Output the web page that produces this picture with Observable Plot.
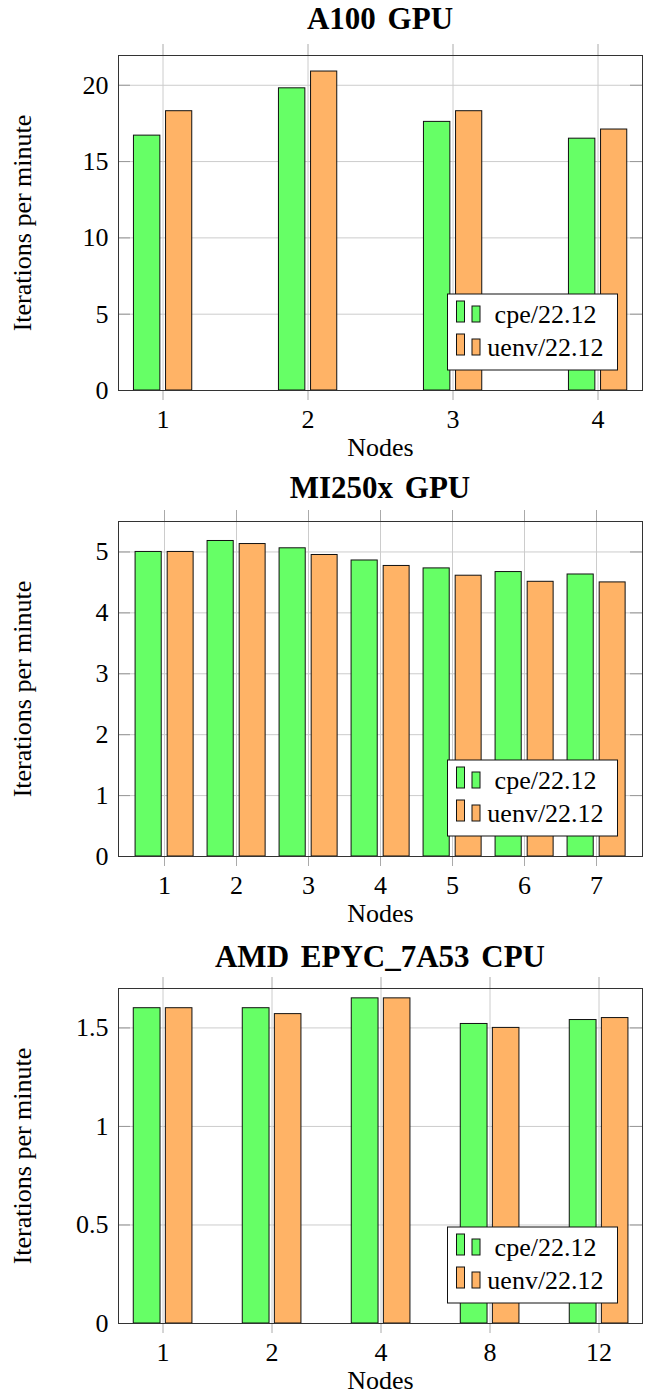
<!DOCTYPE html>
<html><head><meta charset="utf-8">
<script src="https://cdn.jsdelivr.net/npm/d3@7"></script>
<script src="https://cdn.jsdelivr.net/npm/@observablehq/plot@0.6"></script>
<style>
body{margin:0;background:#fff;font-family:"Liberation Serif","Times New Roman",serif;}
#root{position:relative;width:646px;height:1395px;overflow:hidden;}
.title{position:absolute;left:118px;width:524px;text-align:center;font-weight:bold;font-size:31px;line-height:1;color:#000;word-spacing:4px;}
.panel{position:absolute;left:0;}
</style></head><body><div id="root"></div>
<script>
const seriesNames = ["cpe/22.12", "uenv/22.12"];
const seriesColors = ["#66ff66", "#ffb366"];

const a100Nodes = ["1", "2", "3", "4"];
const a100Cpe = [16.7, 19.8, 17.6, 16.5];
const a100Uenv = [18.3, 20.9, 18.3, 17.1];
const a100YTicks = [0, 5, 10, 15, 20];

const mi250Nodes = ["1", "2", "3", "4", "5", "6", "7"];
const mi250Cpe = [5.00, 5.18, 5.06, 4.86, 4.73, 4.67, 4.63];
const mi250Uenv = [5.00, 5.13, 4.95, 4.77, 4.61, 4.51, 4.50];
const mi250YTicks = [0, 1, 2, 3, 4, 5];

const epycNodes = ["1", "2", "4", "8", "12"];
const epycCpe = [1.60, 1.60, 1.65, 1.52, 1.54];
const epycUenv = [1.60, 1.57, 1.65, 1.50, 1.55];
const epycYTicks = [0, 0.5, 1, 1.5];

const panels = [
  {title: "A100 GPU", nodes: a100Nodes, cpe: a100Cpe, uenv: a100Uenv, yTicks: a100YTicks, yMax: 21.95, frameTop: 55, titleTop: 3},
  {title: "MI250x GPU", nodes: mi250Nodes, cpe: mi250Cpe, uenv: mi250Uenv, yTicks: mi250YTicks, yMax: 5.5, frameTop: 521, titleTop: 472},
  {title: "AMD EPYC_7A53 CPU", nodes: epycNodes, cpe: epycCpe, uenv: epycUenv, yTicks: epycYTicks, yMax: 1.7, frameTop: 988, titleTop: 941}
];

const root = document.getElementById("root");
const FONT = "'Liberation Serif', 'Times New Roman', serif";
const FS = 26;

function makePanel(cfg) {
  const W = 646, mt = 20, ph = 335, mb = 70, ml = 118, mr = 4, H = mt + ph + mb;
  const fw = W - ml - mr;
  const first = ml + 44, last = W - mr - 43.5;
  const n = cfg.nodes.length;
  const step = (last - first) / (n - 1);
  const data = cfg.nodes.flatMap((node, i) => [
    {node, series: seriesNames[0], value: cfg.cpe[i]},
    {node, series: seriesNames[1], value: cfg.uenv[i]}
  ]);
  const plot = Plot.plot({
    width: W, height: H,
    marginTop: mt, marginBottom: mb, marginLeft: ml, marginRight: mr,
    style: {fontFamily: FONT, fontSize: FS + "px", background: "white", color: "black", overflow: "visible"},
    x: {type: "band", domain: cfg.nodes, range: [first - step / 2, last + step / 2], padding: 0},
    y: {domain: [0, cfg.yMax]},
    color: {domain: seriesNames, range: seriesColors},
    marks: [
      Plot.gridY(cfg.yTicks, {stroke: "#cccccc", strokeOpacity: 1}),
      Plot.gridX({stroke: "#cccccc", strokeOpacity: 1}),
      Plot.barY(data.filter(d => d.series === seriesNames[0]), {
        x: "node", y: "value", fill: "series", stroke: "#111", strokeWidth: 1,
        insetLeft: step / 2 - 29.3, insetRight: step / 2 + 2.4
      }),
      Plot.barY(data.filter(d => d.series === seriesNames[1]), {
        x: "node", y: "value", fill: "series", stroke: "#111", strokeWidth: 1,
        insetLeft: step / 2 + 2.8, insetRight: step / 2 - 29.5
      }),
      Plot.gridY(cfg.yTicks, {stroke: "#999999", strokeOpacity: 1, insetRight: fw - 12}),
      Plot.gridY(cfg.yTicks, {stroke: "#999999", strokeOpacity: 1, insetLeft: fw - 12}),
      Plot.axisX({anchor: "top", tickSize: 12, stroke: "#aaaaaa", tickFormat: () => "", label: null}),
      Plot.axisX({anchor: "bottom", tickSize: 10, stroke: "#aaaaaa", fill: "black", tickPadding: 9, fontSize: FS, label: null}),
      Plot.axisY(cfg.yTicks, {anchor: "left", tickSize: 0, tickPadding: 10, fill: "black", label: null, fontSize: FS, tickFormat: d => String(d)}),
      Plot.frame({stroke: "#333333", strokeWidth: 1}),
      Plot.text(["Nodes"], {frameAnchor: "bottom", dy: 57, lineAnchor: "middle", textAnchor: "middle", fontSize: FS, fill: "black"}),
      Plot.text(["Iterations per minute"], {frameAnchor: "left", dx: -96, rotate: -90, textAnchor: "middle", lineAnchor: "middle", fontSize: FS, fill: "black"})
    ]
  });

  // legend (south east, inside the frame)
  const svg = d3.select(plot);
  const fr = W - mr, fb = mt + ph;
  const bw = 170, bh = 76;
  const bx = fr - 24.5 - bw, by = fb - 20 - bh;
  const g = svg.append("g").attr("font-family", FONT).attr("font-size", FS);
  g.append("rect").attr("x", bx).attr("y", by).attr("width", bw).attr("height", bh)
    .attr("fill", "white").attr("stroke", "#111").attr("stroke-width", 1);
  seriesNames.forEach((s, i) => {
    const base = by + 28 + i * 33;
    g.append("rect").attr("x", bx + 9).attr("y", base - 21).attr("width", 8).attr("height", 21)
      .attr("fill", seriesColors[i]).attr("stroke", "#111").attr("stroke-width", 1);
    g.append("rect").attr("x", bx + 24.5).attr("y", base - 16).attr("width", 8).attr("height", 16)
      .attr("fill", seriesColors[i]).attr("stroke", "#111").attr("stroke-width", 1);
    g.append("text").attr("x", bx + 98).attr("y", base + 1).attr("text-anchor", "middle")
      .attr("fill", "black").text(s);
  });

  const wrap = document.createElement("div");
  wrap.className = "panel";
  wrap.style.top = (cfg.frameTop - mt) + "px";
  wrap.appendChild(plot);
  root.appendChild(wrap);

  const t = document.createElement("div");
  t.className = "title";
  t.style.top = cfg.titleTop + "px";
  t.textContent = cfg.title;
  root.appendChild(t);
}

panels.forEach(makePanel);
</script>
</body></html>
